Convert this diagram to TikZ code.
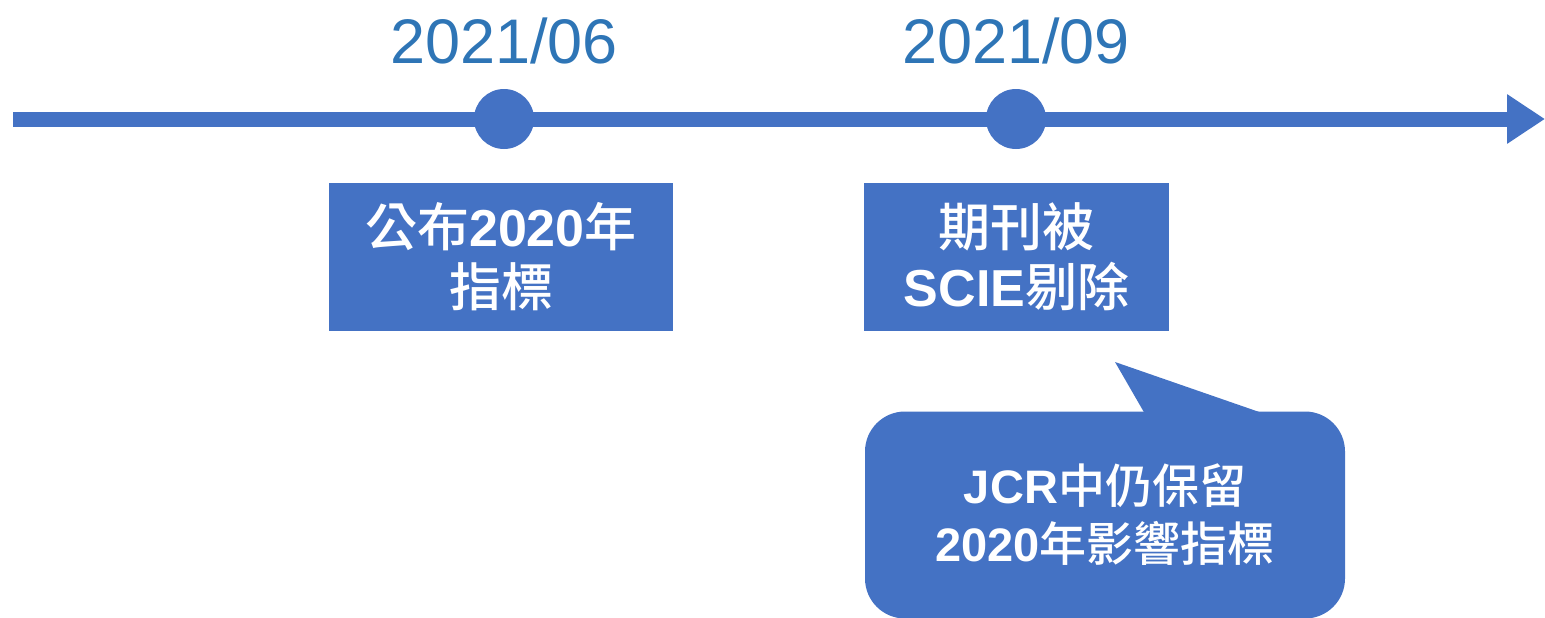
\documentclass[tikz,border=0pt]{standalone}
\usepackage{fontspec}
\setmainfont{Liberation Sans}
\newfontfamily\cjk{Noto Sans CJK TC Medium}
\usetikzlibrary{arrows.meta}
\definecolor{barblue}{RGB}{68,114,196}
\definecolor{dateblue}{RGB}{46,117,182}
\def\zh#1{{\cjk\mdseries #1}}
\tikzset{
  dot/.style={circle, fill=barblue, minimum size=60pt, inner sep=0pt},
  datelabel/.style={text=dateblue, font=\fontsize{63}{70}\selectfont},
  eventbox/.style={fill=barblue, text=white, align=center, minimum height=148pt,
    inner sep=0pt, font=\fontsize{52}{60}\selectfont\bfseries},
  notebox/.style={fill=barblue, text=white, align=center, rounded corners=40pt,
    minimum width=480pt, minimum height=207pt, inner sep=0pt,
    font=\fontsize{47}{58}\selectfont\bfseries}
}

\begin{document}
\begin{tikzpicture}[x=1pt, y=-1pt]
	%%%%% START %%%%%
	
	\useasboundingbox (0, 0) rectangle (1545, 618);
	
	\coordinate (start) at (13, 119);
	\coordinate (stop) at (1545, 119);
	\draw[barblue, line width=15pt, -{Triangle[length=38pt, width=47pt]}] (start) -- (stop);
	
	\node[dot] (jun) at (504, 119) {};
	\node[dot] (sep) at (1016, 119) {};
	
	\node[datelabel] (junlabel) at (504, 41) {2021/06};
	\node[datelabel] (seplabel) at (1016, 41) {2021/09};
	
	\node[eventbox, minimum width=344pt] (publish) at (501, 257)
		{\zh{公布}2020\zh{年}\\\zh{指標}};
	\node[eventbox, minimum width=305pt] (removed) at (1016.5, 257)
		{\zh{期刊被}\\SCIE\zh{剔除}};
	
	\node[notebox] (note) at (1105, 515)
		{JCR\zh{中仍保留}\\2020\zh{年影響指標}};
	\fill[barblue] (1115, 362) -- (1145, 414) -- (1265, 414) -- cycle;
	
	%%%%% END %%%%%
\end{tikzpicture}
\end{document}
